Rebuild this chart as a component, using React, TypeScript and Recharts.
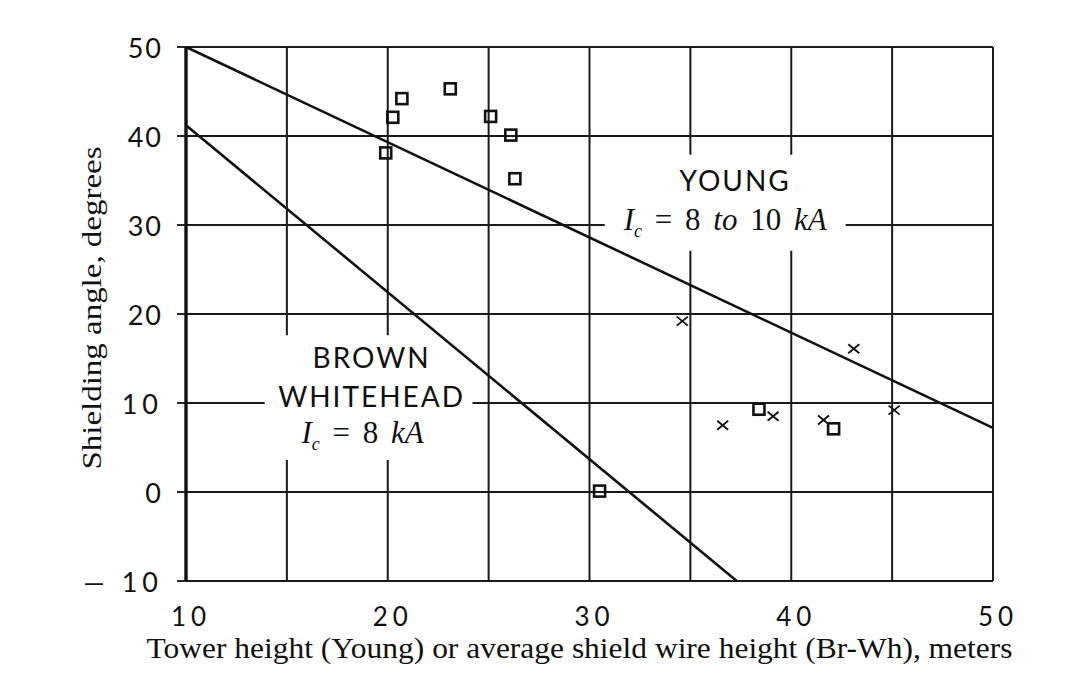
import React from 'react';
import { ComposedChart, Line, Scatter, XAxis, YAxis, CartesianGrid, ReferenceArea } from 'recharts';

const xTicks = [10, 15, 20, 25, 30, 35, 40, 45, 50];
const xLabelTicks = [10, 20, 30, 40, 50];
const yTicks = [-10, 0, 10, 20, 30, 40, 50];

// Young (tower height) and Brown-Whitehead (shield wire height) curves
const youngLine = [{ x: 10, y: 50 }, { x: 50, y: 7.2 }];
const brownLine = [{ x: 10, y: 41.2 }, { x: 37.3, y: -10 }];

// observed points
const squarePoints = [
    { x: 19.9, y: 38.1 }, { x: 20.25, y: 42.1 }, { x: 20.7, y: 44.2 }, { x: 23.1, y: 45.3 },
    { x: 25.1, y: 42.2 }, { x: 26.1, y: 40.1 }, { x: 26.3, y: 35.2 }, { x: 30.5, y: 0.1 },
    { x: 38.4, y: 9.3 }, { x: 42.1, y: 7.1 },
];
const crossPoints = [
    { x: 34.6, y: 19.2 }, { x: 36.6, y: 7.5 }, { x: 39.1, y: 8.5 }, { x: 41.6, y: 8.1 },
    { x: 43.1, y: 16.1 }, { x: 45.1, y: 9.2 },
];

const SANS = 'Lato, "DejaVu Sans", sans-serif';
const SERIF = '"Liberation Serif", "Times New Roman", serif';

const SquareMark = (props: any) => {
    const { cx, cy } = props;
    return <rect x={cx - 5.5} y={cy - 5.5} width={11} height={11} fill="none" stroke="#111" strokeWidth={2.6} />;
};

const CrossMark = (props: any) => {
    const { cx, cy } = props;
    return (
        <g stroke="#111" strokeWidth={1.9}>
            <line x1={cx - 5.5} y1={cy - 4.5} x2={cx + 5.5} y2={cy + 4.5} />
            <line x1={cx - 5.5} y1={cy + 4.5} x2={cx + 5.5} y2={cy - 4.5} />
        </g>
    );
};

const XTick = (props: any) => {
    const { x, y, payload } = props;
    if (!xLabelTicks.includes(payload.value)) return null;
    return (
        <text x={x + 5} y={y + 37} textAnchor="middle" fontFamily={SANS} fontSize={26} letterSpacing={5} fill="#111">
            {payload.value}
        </text>
    );
};

const YTick = (props: any) => {
    const { x, y, payload } = props;
    const v = payload.value;
    return (
        <text x={x - 12} y={y + 11} textAnchor="end" fontFamily={SANS} fontSize={27} letterSpacing={v === 10 || v === -10 ? 5 : 2} fill="#111">
            {v < 0 ? '— ' + Math.abs(v) : v}
        </text>
    );
};

const YoungText = ({ viewBox }: any) => {
    const cx = viewBox.x + viewBox.width / 2;
    const top = viewBox.y;
    return (
        <g fill="#111">
            <text x={cx + 10} y={top + 36} textAnchor="middle" fontFamily={SANS} fontSize={28} letterSpacing={2}>YOUNG</text>
            <text x={cx + 0} y={top + 75} textAnchor="middle" fontFamily={SERIF} fontSize={31} wordSpacing={5}>
                <tspan fontStyle="italic">I</tspan>
                <tspan fontStyle="italic" fontSize={18} dy={7}>c</tspan>
                <tspan dy={-7}> = 8 </tspan>
                <tspan fontStyle="italic">to</tspan>
                <tspan> 10 </tspan>
                <tspan fontStyle="italic">kA</tspan>
            </text>
        </g>
    );
};

const BrownText = ({ viewBox }: any) => {
    const cx = viewBox.x + viewBox.width / 2;
    const top = viewBox.y;
    return (
        <g fill="#111">
            <text x={cx + 3} y={top + 33} textAnchor="middle" fontFamily={SANS} fontSize={28} letterSpacing={2}>BROWN</text>
            <text x={cx + 3} y={top + 72} textAnchor="middle" fontFamily={SANS} fontSize={28} letterSpacing={2}>WHITEHEAD</text>
            <text x={cx - 6} y={top + 108} textAnchor="middle" fontFamily={SERIF} fontSize={31} wordSpacing={5}>
                <tspan fontStyle="italic">I</tspan>
                <tspan fontStyle="italic" fontSize={18} dy={7}>c</tspan>
                <tspan dy={-7}> = 8 </tspan>
                <tspan fontStyle="italic">kA</tspan>
            </text>
        </g>
    );
};

const YTitle = ({ viewBox }: any) => {
    const cx = viewBox.x + 5;
    const cy = viewBox.y + viewBox.height / 2 - 6;
    return (
        <text x={cx} y={cy} transform={`rotate(-90 ${cx} ${cy})`} textAnchor="middle" dominantBaseline="central"
            fontFamily={SERIF} fontSize={28} textLength={323} lengthAdjust="spacingAndGlyphs" fill="#111">
            Shielding  angle, degrees
        </text>
    );
};

const XTitle = ({ viewBox }: any) => {
    const cx = viewBox.x + viewBox.width / 2 - 10;
    return (
        <text x={cx} y={viewBox.y + 77} textAnchor="middle" fontFamily={SERIF} fontSize={29}
            textLength={866} lengthAdjust="spacingAndGlyphs" fill="#111">
            Tower height (Young) or average shield wire height (Br-Wh), meters
        </text>
    );
};

export default function App() {
    return (
        <div style={{ width: 1060, height: 680, background: '#fff' }}>
            <ComposedChart width={1060} height={680} margin={{ top: 39, right: 75, bottom: 37, left: 78 }}>
                <CartesianGrid stroke="#1a1a1a" strokeWidth={2} horizontalValues={yTicks} verticalValues={xTicks} />
                <XAxis type="number" dataKey="x" domain={[10, 50]} ticks={xTicks} allowDataOverflow
                    height={70} tick={<XTick />} tickLine={false} axisLine={false} interval={0}
                    label={{ content: (p: any) => <XTitle viewBox={p.viewBox} /> }} />
                <YAxis type="number" dataKey="y" domain={[-10, 50]} ticks={yTicks} allowDataOverflow
                    width={100} tick={<YTick />} tickSize={9} tickLine={{ stroke: '#111', strokeWidth: 1.8 }}
                    axisLine={{ stroke: '#111', strokeWidth: 3.4 }} interval={0}
                    label={{ content: (p: any) => <YTitle viewBox={p.viewBox} /> }} />
                <ReferenceArea x1={30.75} x2={42.7} y1={27.1} y2={37.9} fill="#fff" fillOpacity={1} stroke="none" ifOverflow="visible"
                    label={{ content: (p: any) => <YoungText viewBox={p.viewBox} /> }} />
                <ReferenceArea x1={13.9} x2={24.2} y1={3.6} y2={17.6} fill="#fff" fillOpacity={1} stroke="none" ifOverflow="visible"
                    label={{ content: (p: any) => <BrownText viewBox={p.viewBox} /> }} />
                <Line data={youngLine} dataKey="y" stroke="#111" strokeWidth={2.6} dot={false} isAnimationActive={false} />
                <Line data={brownLine} dataKey="y" stroke="#111" strokeWidth={2.6} dot={false} isAnimationActive={false} />
                <Scatter data={squarePoints} dataKey="y" shape={<SquareMark />} isAnimationActive={false} />
                <Scatter data={crossPoints} dataKey="y" shape={<CrossMark />} isAnimationActive={false} />
            </ComposedChart>
        </div>
    );
}
